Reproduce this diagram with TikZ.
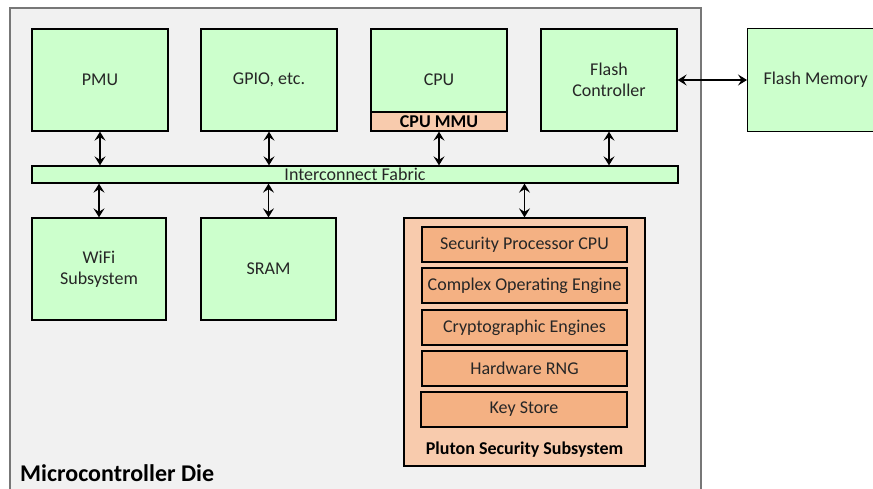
\documentclass[tikz,border=0pt]{standalone}
\usepackage{fontspec}
\setmainfont{Carlito}
\usetikzlibrary{arrows.meta}
\definecolor{grn}{HTML}{CCFFCC}
\definecolor{peach}{HTML}{F8CBAD}
\definecolor{orng}{HTML}{F4B183}
\definecolor{diebg}{HTML}{F1F1F1}
\definecolor{diebd}{HTML}{777777}
\definecolor{txt}{HTML}{262626}
\begin{document}
\begin{tikzpicture}[x=1pt,y=-1pt,
  fs/.style={font=\fontsize{18}{21}\selectfont},
  fsb/.style={font=\fontsize{18}{21}\selectfont\bfseries},
  blk/.style={draw=black,line width=1.3pt,fill=grn,text=txt,fs,align=center},
  sub/.style={draw=black,line width=1.3pt,fill=orng,text=txt,fs},
  biarrow/.style={line width=1.2pt,{Stealth[length=9pt,width=11pt,inset=3.5pt]}-{Stealth[length=9pt,width=11pt,inset=3.5pt]}},
  lbl/.style={inner sep=0pt,text=black}]
\useasboundingbox (0,0) rectangle (873,489);
\fill[white] (0,0) rectangle (873,489);
\draw[draw=diebd,fill=diebg,line width=1.4pt] (10,8) rectangle (701,495);
% top row
\node[blk,minimum width=136pt,minimum height=102pt] (pmu) at (100,80) {PMU};
\node[blk,minimum width=136pt,minimum height=102pt] (gpio) at (269,80) {GPIO, etc.};
\node[blk,minimum width=136pt,minimum height=102pt] (cpu) at (439,80) {};
\node[draw=black,line width=1.3pt,fill=peach,minimum width=136pt,minimum height=19pt,inner sep=0pt,fsb,text=black] (mmu) at (439,121.5) {CPU MMU};
\node[text=txt,fs] (cputxt) at (439,80) {CPU};
\node[blk,minimum width=136pt,minimum height=102pt] (flc) at (609,80) {Flash\\Controller};
\node[blk,minimum width=136pt,minimum height=103pt,anchor=west] (flm) at (747,80) {Flash Memory};
% interconnect
\node[blk,minimum width=646pt,minimum height=17pt,inner sep=0pt] (fab) at (355,174.5) {Interconnect Fabric};
% lower row
\node[blk,minimum width=134pt,minimum height=102pt] (wifi) at (99,269) {WiFi\\Subsystem};
\node[blk,minimum width=135pt,minimum height=102pt] (sram) at (268.5,269) {SRAM};
\node[draw=black,line width=1.3pt,fill=peach,minimum width=241pt,minimum height=248pt,inner sep=0pt] (plu) at (524.5,342) {};
\node[lbl,fsb] (plulbl) at (524.5,450) {Pluton Security Subsystem};
\node[sub,minimum width=205pt,minimum height=35pt] (s1) at (524.5,244.5) {Security Processor CPU};
\node[sub,minimum width=205pt,minimum height=35pt] (s2) at (524.5,285.5) {Complex Operating Engine};
\node[sub,minimum width=205pt,minimum height=35pt] (s3) at (524.5,327.5) {Cryptographic Engines};
\node[sub,minimum width=205pt,minimum height=35pt] (s4) at (524.5,368.5) {Hardware RNG};
\node[sub,minimum width=206pt,minimum height=35pt] (s5) at (524,409.5) {Key Store};
\node[lbl,anchor=west,font=\fontsize{24}{26}\selectfont\bfseries] (die) at (20,473) {Microcontroller Die};
% arrows
\draw[biarrow] (pmu.south) -- (pmu.south |- fab.north);
\draw[biarrow] (gpio.south) -- (gpio.south |- fab.north);
\draw[biarrow] (mmu.south) -- (mmu.south |- fab.north);
\draw[biarrow] (flc.south) -- (flc.south |- fab.north);
\draw[biarrow] (wifi.north) -- (wifi.north |- fab.south);
\draw[biarrow] (sram.north) -- (sram.north |- fab.south);
\draw[biarrow] (plu.north) -- (plu.north |- fab.south);
\draw[biarrow] (flc.east) -- (flm.west);
\end{tikzpicture}
\end{document}
